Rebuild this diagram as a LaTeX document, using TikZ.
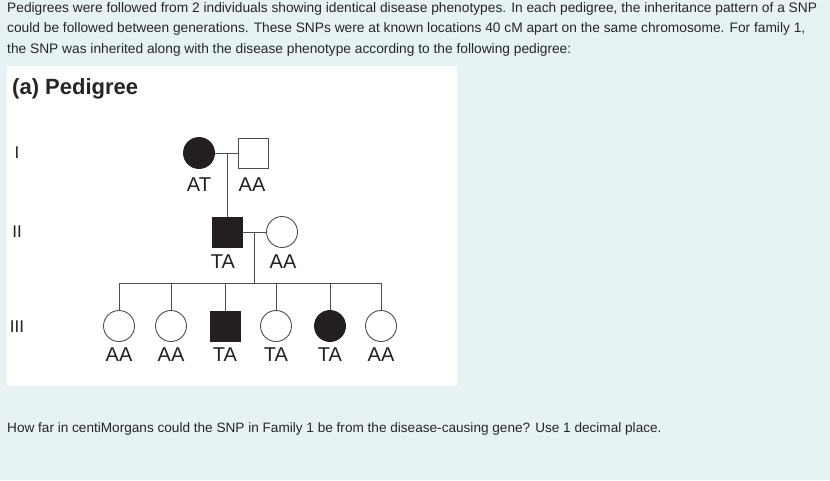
\documentclass[tikz,border=0pt]{standalone}
\usepackage{fontspec}
\setmainfont{Liberation Sans}
\definecolor{pagebg}{HTML}{E6F2F4}
\definecolor{inkgray}{HTML}{4D4D4D}
\definecolor{affected}{HTML}{231F20}

\begin{document}
\begin{tikzpicture}[x=1pt,y=-1pt,
    ind/.style={draw=inkgray,line width=0.9pt,fill=white,inner sep=0pt},
    fem/.style={ind,circle,minimum size=31pt},
    mal/.style={ind,rectangle,minimum size=30pt},
    aff/.style={fill=affected,draw=affected},
    geno/.style={font=\fontsize{20}{20}\selectfont,text=affected},
    genlbl/.style={font=\fontsize{17}{17}\selectfont,text=affected},
    rel/.style={draw=inkgray,line width=1pt}]
  % page and white panel
  \fill[pagebg] (0,0) rectangle (830,480);
  \useasboundingbox (0,0) rectangle (830,480);
  \fill[white] (7,66) rectangle (457,386);
  \node[anchor=north west,align=left,inner sep=0pt,
        font=\fontsize{13.75}{20.5}\selectfont,text=black!85] (intro) at (7,2)
    {Pedigrees were followed from 2 individuals showing identical disease phenotypes. In each pedigree, the inheritance pattern of a SNP\\
     could be followed between generations. These SNPs were at known locations 40 cM apart on the same chromosome. For family 1,\\
     the SNP was inherited along with the disease phenotype according to the following pedigree:};
  \node[anchor=west,inner sep=0pt,font=\fontsize{22}{22}\selectfont\bfseries,text=black!85] (title) at (12,89) {(a) Pedigree};

  % generation labels
  \node[genlbl] (g1) at (17,153) {I};
  \node[genlbl] (g2) at (17,232) {II};
  \node[genlbl] (g3) at (17,327) {III};

  % generation I
  \node[fem,aff] (i1) at (199,153) {};
  \node[mal] (i2) at (253,153) {};
  \draw[rel] (i1) -- (i2);
  \node[geno] at (199,185) {AT};
  \node[geno] at (252,185) {AA};

  % generation II
  \node[mal,aff] (ii1) at (227,232) {};
  \node[fem] (ii2) at (282,232) {};
  \draw[rel] (ii1) -- (ii2);
  \coordinate (m1) at (227,153);
  \draw[rel] (m1) -- (ii1.north);
  \node[geno] at (223,262) {TA};
  \node[geno] at (283,262) {AA};

  % generation III
  \coordinate (m2) at (254,232);
  \coordinate (sib) at (254,283);
  \draw[rel] (m2) -- (sib);
  \node[fem] (c1) at (119,326) {};
  \node[fem] (c2) at (171,326) {};
  \node[mal,aff] (c3) at (225,326) {};
  \node[fem] (c4) at (276,326) {};
  \node[fem,aff] (c5) at (330,326) {};
  \node[fem] (c6) at (381,326) {};
  \draw[rel] (c1.north |- sib) -- (c6.north |- sib);
  \foreach \c/\g in {c1/AA,c2/AA,c3/TA,c4/TA,c5/TA,c6/AA}{
    \draw[rel] (\c.north |- sib) -- (\c.north);
    \node[geno] at ([yshift=-29pt]\c.center) {\g};
  }

  \node[anchor=west,inner sep=0pt,font=\fontsize{13.6}{16}\selectfont,text=black!85] (question) at (7,429)
    {How far in centiMorgans could the SNP in Family 1 be from the disease-causing gene? Use 1 decimal place.};
\end{tikzpicture}
\end{document}
